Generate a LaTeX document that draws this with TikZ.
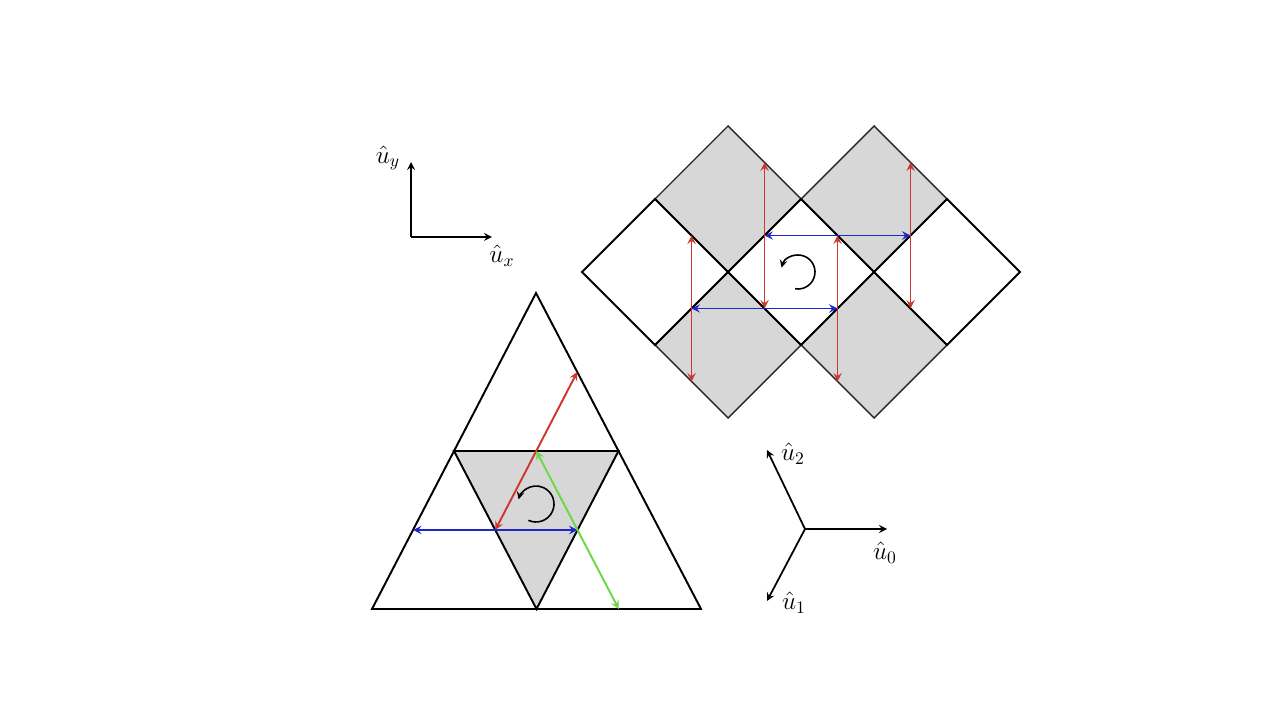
\documentclass[tikz,border=0pt]{standalone}
\usepackage{tikz}
\usetikzlibrary{calc,arrows,positioning}

\definecolor{hopred}{RGB}{205,55,45}
\definecolor{hopblue}{RGB}{30,40,200}
\definecolor{hopgreen}{RGB}{110,215,70}
\definecolor{plaqgray}{RGB}{215,215,215}

\begin{document}
\begin{tikzpicture}[x=0.02cm,y=0.02cm]

\tikzset{graycell/.style={fill=plaqgray,draw=black!85,line width=0.8pt},
whitecell/.style={draw=black,line width=1.1pt},
redhop/.style={<->,>=stealth,draw=hopred,line width=1.1pt},
bluehop/.style={<->,>=stealth,draw=hopblue,line width=1.1pt},
greenhop/.style={<->,>=stealth,draw=hopgreen,line width=1.1pt},
axis/.style={->,>=stealth,line width=1pt},
spin/.style={->,>=stealth,line width=0.9pt},
lbl/.style={inner sep=0pt,font=\Large}}

\useasboundingbox (0,0) rectangle (1280,720);

% Square lattice sites
\coordinate (v02) at (582,448);
\coordinate (v11) at (655,521);
\coordinate (v13) at (655,375);
\coordinate (v20) at (728,594);
\coordinate (v22) at (728,448);
\coordinate (v24) at (728,302);
\coordinate (v31) at (801,521);
\coordinate (v33) at (801,375);
\coordinate (v40) at (874,594);
\coordinate (v42) at (874,448);
\coordinate (v44) at (874,302);
\coordinate (v51) at (947,521);
\coordinate (v53) at (947,375);
\coordinate (v62) at (1020,448);

% Shaded plaquettes
\draw[graycell] (v11) -- (v20) -- (v31) -- (v22) -- cycle;
\draw[graycell] (v31) -- (v40) -- (v51) -- (v42) -- cycle;
\draw[graycell] (v13) -- (v22) -- (v33) -- (v24) -- cycle;
\draw[graycell] (v33) -- (v42) -- (v53) -- (v44) -- cycle;

% Open plaquettes
\draw[whitecell] (v02) -- (v11) -- (v22) -- (v13) -- cycle;
\draw[whitecell] (v22) -- (v31) -- (v42) -- (v33) -- cycle;
\draw[whitecell] (v42) -- (v51) -- (v62) -- (v53) -- cycle;

% Bond midpoints
\coordinate (r1a) at ($(v11)!.5!(v22)$);
\coordinate (r1b) at ($(v13)!.5!(v24)$);
\coordinate (r2a) at ($(v20)!.5!(v31)$);
\coordinate (r2b) at ($(v22)!.5!(v33)$);
\coordinate (r3a) at ($(v31)!.5!(v42)$);
\coordinate (r3b) at ($(v33)!.5!(v44)$);
\coordinate (r4a) at ($(v40)!.5!(v51)$);
\coordinate (r4b) at ($(v42)!.5!(v53)$);
\coordinate (b1a) at ($(v22)!.5!(v31)$);
\coordinate (b1b) at ($(v42)!.5!(v51)$);
\coordinate (b2a) at ($(v13)!.5!(v22)$);
\coordinate (b2b) at ($(v33)!.5!(v42)$);

% Hopping arrows on the square lattice
\draw[redhop] (r1a) -- (r1b);
\draw[redhop] (r2a) -- (r2b);
\draw[redhop] (r3a) -- (r3b);
\draw[redhop] (r4a) -- (r4b);
\draw[bluehop] (b1a) -- (b1b);
\draw[bluehop] (b2a) -- (b2b);

% Circulation in the open plaquette
\coordinate (sqc) at (798,448);
\draw[spin] ($(sqc)+(-100:17)$) arc (-100:165:17);

% Triangle corners
\coordinate (tA) at (536,427);
\coordinate (tL) at (372,111);
\coordinate (tR) at (701,111);
\coordinate (mL) at ($(tA)!.5!(tL)$);
\coordinate (mR) at ($(tA)!.5!(tR)$);
\coordinate (mB) at ($(tL)!.5!(tR)$);

% Triangle and its shaded centre
\draw[graycell,draw=black,line width=1.1pt] (mL) -- (mR) -- (mB) -- cycle;
\draw[whitecell] (tA) -- (tR) -- (tL) -- cycle;

% Bond midpoints on the triangle
\coordinate (tra) at ($(tA)!.5!(mR)$);
\coordinate (trb) at ($(mL)!.5!(mB)$);
\coordinate (tba) at ($(mL)!.5!(tL)$);
\coordinate (tbb) at ($(mR)!.5!(mB)$);
\coordinate (tga) at ($(mL)!.5!(mR)$);
\coordinate (tgb) at ($(mB)!.5!(tR)$);

% Hopping arrows on the triangle
\draw[redhop] (tra) -- (trb);
\draw[bluehop] (tba) -- (tbb);
\draw[greenhop] (tga) -- (tgb);

% Circulation in the shaded triangle
\coordinate (trc) at (536,216);
\draw[spin] ($(trc)+(-115:18)$) arc (-115:165:18);

% Cartesian axes
\coordinate (o1) at (411,483);
\coordinate (uy) at (411,558);
\coordinate (ux) at (492,483);
\draw[axis] (o1) -- (uy);
\draw[axis] (o1) -- (ux);
\node (luy) [lbl] at (388,562) {$\hat{u}_y$};
\node (lux) [lbl] at (502,464) {$\hat{u}_x$};

% Triangular axes
\coordinate (o2) at (805,191);
\coordinate (u0) at (887,191);
\coordinate (u1) at (767,119);
\coordinate (u2) at (767,270);
\draw[axis] (o2) -- (u0);
\draw[axis] (o2) -- (u1);
\draw[axis] (o2) -- (u2);
\node (lu0) [lbl] at (885,167) {$\hat{u}_0$};
\node (lu1) [lbl] at (794,117) {$\hat{u}_1$};
\node (lu2) [lbl] at (793,266) {$\hat{u}_2$};

\end{tikzpicture}
\end{document}
